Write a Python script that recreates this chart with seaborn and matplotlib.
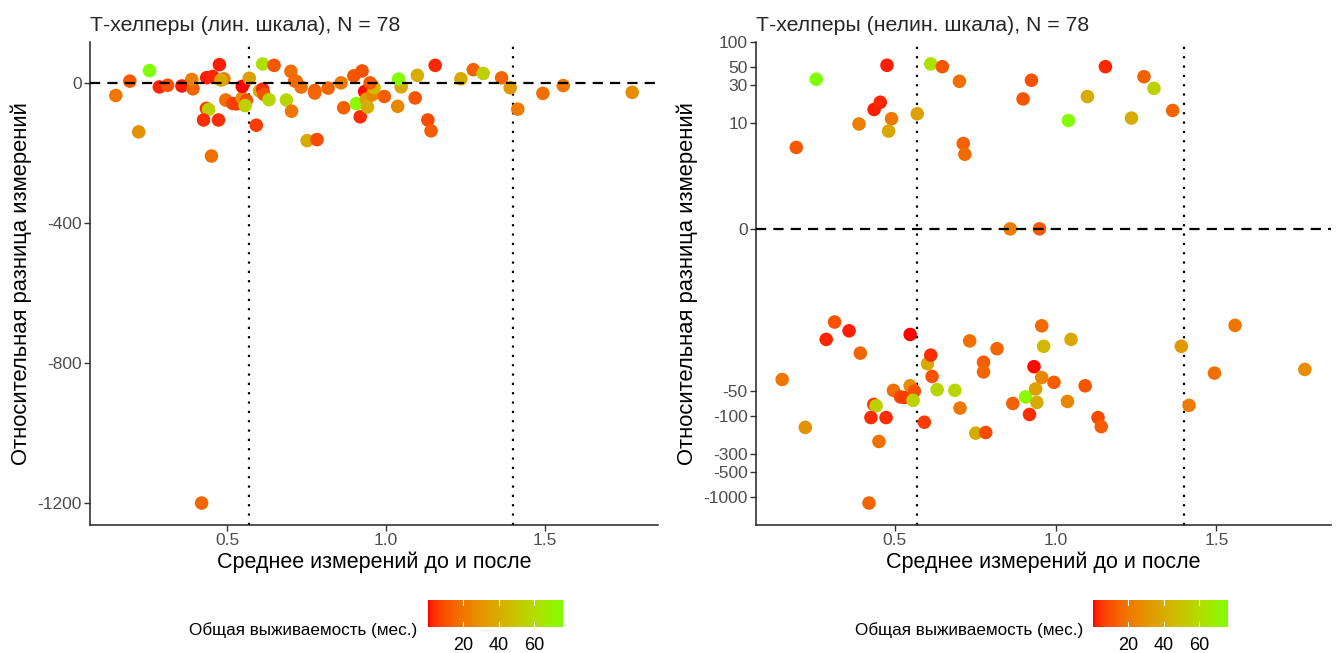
import numpy as np
import pandas as pd
import matplotlib
matplotlib.use("Agg")
import matplotlib.pyplot as plt
import seaborn as sns
from matplotlib.colors import ListedColormap, Normalize
from matplotlib.cm import ScalarMappable

# Mean of the two measurements (before / after)
mean_value = [
    0.150, 0.222, 0.287, 0.313, 0.358, 0.393, 0.420, 0.435, 0.442, 0.426,
    0.473, 0.451, 0.496, 0.518, 0.530, 0.548, 0.561, 0.557, 0.548, 0.592,
    0.602, 0.612, 0.616, 0.632, 0.687, 0.703, 0.733, 0.752, 0.783, 0.776,
    0.776, 0.818, 0.867, 0.907, 0.919, 0.933, 0.938, 0.942, 0.957, 0.957,
    0.963, 0.995, 1.037, 1.048, 1.092, 1.132, 1.142, 1.391, 1.415, 1.494,
    1.558, 1.775,
    0.194, 0.256, 0.389, 0.436, 0.455, 0.476, 0.490, 0.481, 0.570, 0.612,
    0.648, 0.701, 0.713, 0.718, 0.859, 0.950, 0.899, 0.925, 1.040, 1.099,
    1.155, 1.236, 1.275, 1.306, 1.364,
]

# Relative difference between the measurements, %
rel_diff = [
    -36, -140, -11.5, -7, -9, -17, -1200, -73, -76, -106,
    -106, -209, -49, -59, -60, -43, -50, -65, -10, -121,
    -23, -18, -33, -48, -49, -81, -12, -165, -162, -22,
    -29, -15, -71, -59, -97, -25, -47, -69, -34, -7.8,
    -14, -39, -67, -11.5, -43, -106, -137, -14, -75, -30,
    -7.7, -27,
    5, 35, 9.8, 14.8, 18.2, 52, 11.4, 8, 13.1, 54,
    50, 33, 5.6, 4.1, 0, 0, 20, 34, 10.8, 21.4,
    50, 11.6, 37.6, 27, 14.4,
]

# Overall survival, months
survival = [
    20, 30, 3, 10, 2, 15, 15, 5, 55, 4,
    4, 18, 18, 8, 6, 28, 10, 55, 0.5, 6,
    40, 4, 10, 57, 57, 20, 18, 40, 9, 13,
    15, 15, 14, 73, 4, 1, 35, 40, 25, 16,
    45, 13, 25, 38, 11, 9, 13, 32, 22, 18,
    20, 28,
    12, 76, 23, 2, 3, 2, 21, 38, 35, 62,
    11, 18, 14, 17, 22, 12, 11, 10, 75, 40,
    3, 40, 14, 55, 15,
]

y_ticks_nonlin = [-1000, -500, -300, -100, -50, 0, 10, 30, 50, 100]
y_ticks_lin = [-1200, -800, -400, 0]
x_ticks = [0.5, 1.0, 1.5]
bar_ticks = [20, 40, 60]
ref_lines_x = [0.57, 1.40]

title_lin = "Т-хелперы (лин. шкала), N = 78"
title_nonlin = "Т-хелперы (нелин. шкала), N = 78"
x_label = "Среднее измерений до и после"
y_label = "Относительная разница измерений"
legend_title = "Общая выживаемость (мес.)"

df = pd.DataFrame({"mean": mean_value, "diff": rel_diff, "os": survival})


# ---- red -> chartreuse gradient interpolated in CIELAB ----
_M = np.array([[0.4124564, 0.3575761, 0.1804375],
               [0.2126729, 0.7151522, 0.0721750],
               [0.0193339, 0.1191920, 0.9503041]])
_WHITE = np.array([0.95047, 1.0, 1.08883])


def srgb_to_lab(rgb):
    c = np.asarray(rgb, float)
    lin = np.where(c <= 0.04045, c / 12.92, ((c + 0.055) / 1.055) ** 2.4)
    xyz = lin @ _M.T / _WHITE
    d = 6 / 29
    f = np.where(xyz > d ** 3, np.cbrt(xyz), xyz / (3 * d * d) + 4 / 29)
    return np.stack([116 * f[..., 1] - 16,
                     500 * (f[..., 0] - f[..., 1]),
                     200 * (f[..., 1] - f[..., 2])], axis=-1)


def lab_to_srgb(lab):
    lab = np.asarray(lab, float)
    fy = (lab[..., 0] + 16) / 116
    fx = fy + lab[..., 1] / 500
    fz = fy - lab[..., 2] / 200
    d = 6 / 29
    f = np.stack([fx, fy, fz], axis=-1)
    xyz = np.where(f > d, f ** 3, 3 * d * d * (f - 4 / 29)) * _WHITE
    lin = xyz @ np.linalg.inv(_M).T
    lin = np.clip(lin, 0, 1)
    c = np.where(lin <= 0.0031308, 12.92 * lin, 1.055 * lin ** (1 / 2.4) - 0.055)
    return np.clip(c, 0, 1)


lab_lo = srgb_to_lab([1.0, 0.0, 0.0])
lab_hi = srgb_to_lab([127 / 255, 1.0, 0.0])
t = np.linspace(0, 1, 256)[:, None]
cmap = ListedColormap(lab_to_srgb(lab_lo * (1 - t) + lab_hi * t))
norm = Normalize(vmin=min(survival), vmax=max(survival))

# ---- figure ----
sns.set_style("ticks")
plt.rcParams["font.family"] = ["Liberation Sans", "DejaVu Sans"]
plt.rcParams["axes.unicode_minus"] = False

W, H = 1336, 653
fig = plt.figure(figsize=(W / 100, H / 100), dpi=100)


def px_axes(x0, y0, x1, y1):
    return fig.add_axes([x0 / W, 1 - y1 / H, (x1 - x0) / W, (y1 - y0) / H])


ax_lin = px_axes(90, 42, 658, 525)
ax_non = px_axes(756, 42, 1331, 525)

x_lo, x_hi = min(mean_value), max(mean_value)
x_pad = 0.05 * (x_hi - x_lo)

tick_col = "#4D4D4D"
for ax in (ax_lin, ax_non):
    if ax is ax_non:
        ax.set_yscale("asinh", linear_width=1)
    sns.scatterplot(data=df, x="mean", y="diff", hue="os", palette=cmap,
                    hue_norm=norm, s=95, linewidth=0, legend=False, ax=ax,
                    zorder=3)
    ax.axhline(0, color="black", lw=1.6, dashes=(4.6, 3.2), zorder=4)
    for xv in ref_lines_x:
        ax.axvline(xv, color="black", lw=1.6, dashes=(1, 3.2), zorder=2)
    ax.set_xlim(x_lo - x_pad, x_hi + x_pad)
    ax.set_xticks(x_ticks)
    ax.set_xticklabels([f"{v:.1f}" for v in x_ticks])
    ax.set_xlabel(x_label, fontsize=15.5, color="black", labelpad=2)
    ax.set_ylabel(y_label, fontsize=15.8, color="black", labelpad=4)
    ax.tick_params(axis="both", which="major", length=4, width=1,
                   color="#333333", labelsize=12.5, labelcolor=tick_col, pad=2)
    ax.tick_params(axis="both", which="minor", length=0)
    for side in ("top", "right"):
        ax.spines[side].set_visible(False)
    for side in ("left", "bottom"):
        ax.spines[side].set_linewidth(1.1)
        ax.spines[side].set_color("#222222")

# linear panel
y_lo, y_hi = min(rel_diff), max(rel_diff)
y_pad = 0.05 * (y_hi - y_lo)
ax_lin.set_ylim(y_lo - y_pad, y_hi + y_pad)
ax_lin.set_yticks(y_ticks_lin)
ax_lin.set_yticklabels([str(v) for v in y_ticks_lin])
ax_lin.set_title(title_lin, loc="left", fontsize=15.3, pad=8)

# non-linear (asinh) panel
a_lo, a_hi = np.arcsinh(y_lo), np.arcsinh(y_hi)
a_pad = 0.05 * (a_hi - a_lo)
ax_non.set_ylim(np.sinh(a_lo - a_pad), np.sinh(a_hi + a_pad))
ax_non.set_yticks(y_ticks_nonlin)
ax_non.set_yticklabels([str(v) for v in y_ticks_nonlin])
ax_non.yaxis.set_minor_locator(matplotlib.ticker.NullLocator())
ax_non.set_title(title_nonlin, loc="left", fontsize=15.3, pad=8)

# colour bars below each panel
sm = ScalarMappable(norm=norm, cmap=cmap)
for bx, tx in ((428, 417), (1093, 1083)):
    cax = px_axes(bx, 600, bx + 135, 627)
    cb = fig.colorbar(sm, cax=cax, orientation="horizontal", ticks=bar_ticks)
    cb.outline.set_visible(False)
    cax.tick_params(axis="x", length=0, labelsize=13, labelcolor="black", pad=7)
    for tv in bar_ticks:
        cax.axvline(tv, ymin=0, ymax=0.2, color="white", lw=0.8)
        cax.axvline(tv, ymin=0.8, ymax=1, color="white", lw=0.8)
    fig.text(tx / W, 1 - 630 / H, legend_title, ha="right", va="center",
             fontsize=12.3, color="black")

fig.savefig("out.png", dpi=100)
